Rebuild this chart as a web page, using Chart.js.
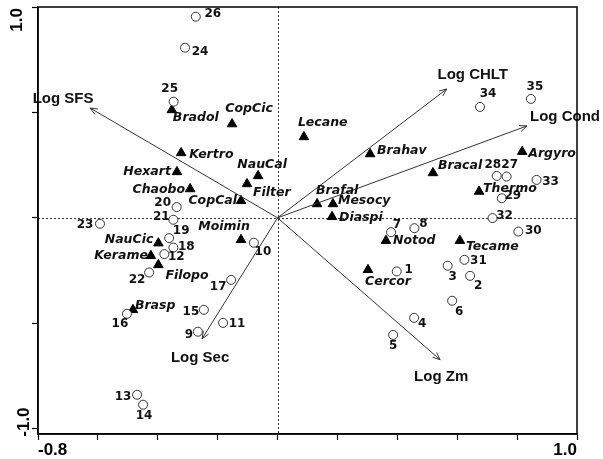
<!DOCTYPE html>
<html>
<head>
<meta charset="utf-8">
<title>RDA biplot</title>
<script src="https://cdn.jsdelivr.net/npm/chart.js"></script>
<style>
  html, body { margin: 0; padding: 0; background: #fff; }
  #wrap { width: 603px; height: 459px; }
</style>
</head>
<body>
<div id="wrap"><canvas id="biplot"></canvas></div>
<script>
// sites (open circles)
const siteIds = ['1','2','3','4','5','6','7','8','9','10','11','12','13','14','15','16','17','18',
  '19','20','21','22','23','24','25','26','27','28','29','30','31','32','33','34','35'];
const siteX = [0.398, 0.643, 0.568, 0.456, 0.386, 0.583, 0.379, 0.457, -0.266, -0.079, -0.182, -0.378,
  -0.469, -0.449, -0.246, -0.503, -0.155, -0.348, -0.362, -0.337, -0.348, -0.429, -0.593, -0.309,
  -0.347, -0.273, 0.765, 0.732, 0.749, 0.804, 0.624, 0.718, 0.865, 0.676, 0.846];
const siteY = [-0.254, -0.275, -0.227, -0.474, -0.555, -0.393, -0.068, -0.049, -0.540, -0.118, -0.498, -0.172,
  -0.839, -0.886, -0.436, -0.455, -0.294, -0.141, -0.096, 0.051, -0.009, -0.259, -0.028, 0.807,
  0.551, 0.954, 0.196, 0.199, 0.093, -0.065, -0.199, -0.001, 0.180, 0.526, 0.564];

// species (filled triangles)
const speciesNames = ['Bradol','CopCic','Kertro','Hexart','NauCal','Filter','Chaobo','CopCal','Moimin',
  'NauCic','Kerame','Filopo','Brasp','Lecane','Brahav','Argyro','Bracal','Thermo','Brafal','Mesocy',
  'Diaspi','Notod','Tecame','Cercor'];
const speciesX = [-0.353, -0.152, -0.322, -0.336, -0.065, -0.102, -0.292, -0.122, -0.122, -0.398, -0.423,
  -0.398, -0.483, 0.088, 0.309, 0.817, 0.519, 0.673, 0.132, 0.185, 0.182, 0.362, 0.609, 0.302];
const speciesY = [0.512, 0.445, 0.308, 0.218, 0.199, 0.161, 0.137, 0.081, -0.104, -0.120, -0.180,
  -0.223, -0.436, 0.384, 0.303, 0.314, 0.213, 0.125, 0.066, 0.066, 0.005, -0.108, -0.108, -0.246];

// environmental vectors (arrows from origin)
const envNames = ['Log SFS', 'Log Sec', 'Log CHLT', 'Log Cond', 'Log Zm'];
const envX = [-0.626, -0.252, 0.565, 0.833, 0.543];
const envY = [0.521, -0.573, 0.611, 0.436, -0.673];

// axes
const xMin = -0.8, xMax = 1.0;
const yMin = -1.025, yMax = 1.0;
const xTickValues = [-0.8, -0.6, -0.4, -0.2, 0, 0.2, 0.4, 0.6, 0.8, 1.0];
const yTickValues = [-1.0, -0.5, 0, 0.5, 1.0];
const xTickLabels = ['-0.8', '1.0'];
const yTickLabels = ['-1.0', '1.0'];

// label placement, pixel offsets from the mark
const siteLabelPos = {
  '1':[12,-2], '2':[8,10], '3':[5,11], '4':[8,6], '5':[0,11], '6':[7,11], '7':[6,-7], '8':[9,-4],
  '9':[-9,3], '10':[9,9], '11':[14,1], '12':[12,3], '13':[-14,2], '14':[1,11], '15':[-13,2],
  '16':[-7,10], '17':[-13,7], '18':[13,-1], '19':[12,-7], '20':[-14,-4], '21':[-12,-3], '22':[-12,7],
  '23':[-15,1], '24':[15,4], '25':[-4,-13], '26':[17,-3], '27':[3,-12], '28':[-4,-11], '29':[11,-2],
  '30':[15,-1], '31':[14,1], '32':[12,-2], '33':[14,2], '34':[8,-13], '35':[4,-12]
};
const speciesLabelPos = {
  Bradol:[1,8,'left'], CopCic:[17,-15,'center'], Kertro:[8,2,'left'], Hexart:[-6,0,'right'],
  NauCal:[4,-11,'center'], Filter:[6,9,'left'], Chaobo:[-5,1,'right'], CopCal:[-4,0,'right'],
  Moimin:[-17,-13,'center'], NauCic:[-5,-3,'right'], Kerame:[-3,0,'right'], Filopo:[7,11,'left'],
  Brasp:[2,-4,'left'], Lecane:[-6,-14,'left'], Brahav:[7,-3,'left'], Argyro:[6,2,'left'],
  Bracal:[5,-7,'left'], Thermo:[4,-3,'left'], Brafal:[-1,-13,'left'], Mesocy:[5,-3,'left'],
  Diaspi:[7,1,'left'], Notod:[7,0,'left'], Tecame:[6,6,'left'], Cercor:[-3,12,'left']
};
const envLabelPos = {
  'Log SFS':[-27,-9], 'Log Sec':[-2,19], 'Log CHLT':[26,-14], 'Log Cond':[38,-9], 'Log Zm':[1,17]
};

const ink = '#111';
const lineInk = '#333';

const biplotDecor = {
  id: 'biplotDecor',
  beforeDatasetsDraw(chart) {
    const {ctx, chartArea: a, scales: {x, y}} = chart;
    const x0 = Math.round(x.getPixelForValue(0)) + 0.5;
    const y0 = Math.round(y.getPixelForValue(0)) + 0.5;
    ctx.save();
    ctx.strokeStyle = lineInk;
    ctx.lineWidth = 1;
    ctx.setLineDash([2, 2]);
    ctx.beginPath();
    ctx.moveTo(x0, a.top); ctx.lineTo(x0, a.bottom);
    ctx.moveTo(a.left, y0); ctx.lineTo(a.right, y0);
    ctx.stroke();
    ctx.restore();
  },
  afterDatasetsDraw(chart) {
    const {ctx, chartArea: a, scales: {x, y}} = chart;
    ctx.save();

    // arrow heads
    const ox = x.getPixelForValue(0), oy = y.getPixelForValue(0);
    ctx.strokeStyle = lineInk;
    ctx.lineWidth = 1;
    envNames.forEach((n, i) => {
      const tx = x.getPixelForValue(envX[i]), ty = y.getPixelForValue(envY[i]);
      const ang = Math.atan2(ty - oy, tx - ox);
      const len = 8, spread = 0.4;
      ctx.beginPath();
      ctx.moveTo(tx - len * Math.cos(ang - spread), ty - len * Math.sin(ang - spread));
      ctx.lineTo(tx, ty);
      ctx.lineTo(tx - len * Math.cos(ang + spread), ty - len * Math.sin(ang + spread));
      ctx.stroke();
    });

    ctx.fillStyle = ink;
    ctx.textBaseline = 'middle';

    // site numbers
    ctx.font = 'bold 12px "DejaVu Sans"';
    ctx.textAlign = 'center';
    siteIds.forEach((id, i) => {
      const p = siteLabelPos[id] || [10, 0];
      ctx.fillText(id, x.getPixelForValue(siteX[i]) + p[0], y.getPixelForValue(siteY[i]) + p[1]);
    });

    // species names
    ctx.font = 'italic bold 12.5px "DejaVu Sans"';
    speciesNames.forEach((n, i) => {
      const p = speciesLabelPos[n] || [6, 0, 'left'];
      ctx.textAlign = p[2];
      ctx.fillText(n, x.getPixelForValue(speciesX[i]) + p[0], y.getPixelForValue(speciesY[i]) + p[1]);
    });

    // environmental variables
    ctx.font = 'bold 15px "Liberation Sans"';
    ctx.textAlign = 'center';
    envNames.forEach((n, i) => {
      const p = envLabelPos[n] || [0, 0];
      ctx.fillText(n, x.getPixelForValue(envX[i]) + p[0], y.getPixelForValue(envY[i]) + p[1]);
    });

    // frame
    ctx.strokeStyle = '#000';
    ctx.lineWidth = 1.5;
    ctx.strokeRect(a.left, a.top, a.right - a.left, a.bottom - a.top);

    // rotated y tick labels at the axis ends
    ctx.font = 'bold 17px "Liberation Sans"';
    ctx.fillStyle = '#000';
    const yLow = y.getPixelForValue(-1.0), yHigh = y.getPixelForValue(1.0);
    ctx.save();
    ctx.translate(17, yHigh + 1);
    ctx.rotate(-Math.PI / 2);
    ctx.textAlign = 'right';
    ctx.fillText(yTickLabels[1], 0, 0);
    ctx.restore();
    ctx.save();
    ctx.translate(24.5, yLow + 8);
    ctx.rotate(-Math.PI / 2);
    ctx.textAlign = 'left';
    ctx.fillText(yTickLabels[0], 0, 0);
    ctx.restore();

    ctx.restore();
  }
};

const datasets = [];
envNames.forEach((n, i) => {
  datasets.push({
    label: n,
    data: [{x: 0, y: 0}, {x: envX[i], y: envY[i]}],
    showLine: true,
    borderColor: lineInk,
    borderWidth: 1,
    pointRadius: 0
  });
});
datasets.push({
  label: 'sites',
  data: siteIds.map((id, i) => ({x: siteX[i], y: siteY[i]})),
  pointStyle: 'circle',
  pointRadius: 4.5,
  backgroundColor: '#fff',
  borderColor: lineInk,
  borderWidth: 1
});
datasets.push({
  label: 'species',
  data: speciesNames.map((n, i) => ({x: speciesX[i], y: speciesY[i]})),
  pointStyle: 'triangle',
  pointRadius: 5.5,
  backgroundColor: '#000',
  borderColor: '#000',
  borderWidth: 1
});

new Chart(document.getElementById('biplot').getContext('2d'), {
  type: 'scatter',
  data: { datasets },
  options: {
    responsive: true,
    maintainAspectRatio: false,
    animation: false,
    events: [],
    layout: { padding: { left: 0, right: 26, top: 7, bottom: 0 } },
    plugins: { legend: { display: false }, tooltip: { enabled: false } },
    scales: {
      x: {
        type: 'linear',
        min: xMin,
        max: xMax,
        afterBuildTicks: s => { s.ticks = xTickValues.map(v => ({value: v})); },
        afterFit: s => { s.height = 25; },
        grid: { drawOnChartArea: false, drawTicks: true, tickLength: 6, tickColor: '#000', tickWidth: 1.2 },
        border: { display: true, color: '#000', width: 1.5 },
        ticks: {
          autoSkip: false,
          maxRotation: 0,
          align: 'inner',
          padding: 0,
          color: '#000',
          font: { family: '"Liberation Sans"', size: 17, weight: 'bold' },
          callback: v => {
            const t = v.toFixed(1);
            return xTickLabels.includes(t) ? t : '';
          }
        }
      },
      y: {
        type: 'linear',
        min: yMin,
        max: yMax,
        afterBuildTicks: s => { s.ticks = yTickValues.map(v => ({value: v})); },
        afterFit: s => { s.width = 38; },
        grid: { drawOnChartArea: false, drawTicks: true, tickLength: 6, tickColor: '#000', tickWidth: 1.2 },
        border: { display: true, color: '#000', width: 1.5 },
        ticks: { display: false }
      }
    }
  },
  plugins: [biplotDecor]
});
</script>
</body>
</html>
